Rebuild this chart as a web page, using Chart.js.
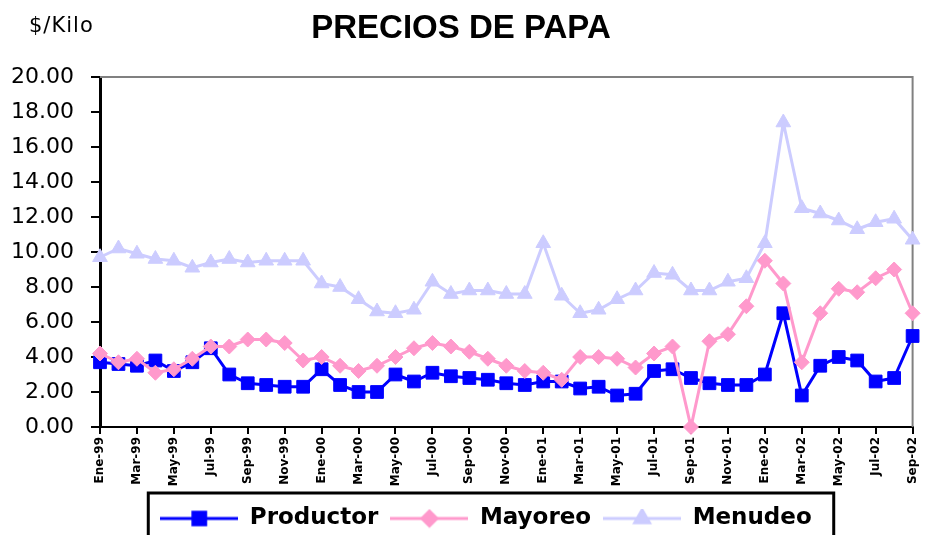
<!DOCTYPE html>
<html>
<head>
<meta charset="utf-8">
<script src="https://cdn.jsdelivr.net/npm/chart.js@4.4.1/dist/chart.umd.min.js"></script>
<style>
  html, body { margin: 0; padding: 0; background: #fff; overflow: hidden; }
  #wrap { width: 930px; height: 540px; }
</style>
</head>
<body>
<div id="wrap"><canvas id="myChart"></canvas></div>
<script>
// meses (Ene-99 .. Sep-02)
const meses = [
  'Ene-99','Feb-99','Mar-99','Abr-99','May-99','Jun-99','Jul-99','Ago-99','Sep-99','Oct-99','Nov-99','Dic-99',
  'Ene-00','Feb-00','Mar-00','Abr-00','May-00','Jun-00','Jul-00','Ago-00','Sep-00','Oct-00','Nov-00','Dic-00',
  'Ene-01','Feb-01','Mar-01','Abr-01','May-01','Jun-01','Jul-01','Ago-01','Sep-01','Oct-01','Nov-01','Dic-01',
  'Ene-02','Feb-02','Mar-02','Abr-02','May-02','Jun-02','Jul-02','Ago-02','Sep-02'
];

// $/Kilo
const productor = [3.7, 3.6, 3.5, 3.8, 3.2, 3.7, 4.5, 3.0, 2.5, 2.4, 2.3, 2.3,
                   3.3, 2.4, 2.0, 2.0, 3.0, 2.6, 3.1, 2.9, 2.8, 2.7, 2.5, 2.4,
                   2.6, 2.6, 2.2, 2.3, 1.8, 1.9, 3.2, 3.3, 2.8, 2.5, 2.4, 2.4,
                   3.0, 6.5, 1.8, 3.5, 4.0, 3.8, 2.6, 2.8, 5.2];
const mayoreo = [4.2, 3.7, 3.9, 3.1, 3.3, 3.9, 4.6, 4.6, 5.0, 5.0, 4.8, 3.8,
                 4.0, 3.5, 3.2, 3.5, 4.0, 4.5, 4.8, 4.6, 4.3, 3.9, 3.5, 3.2,
                 3.1, 2.7, 4.0, 4.0, 3.9, 3.4, 4.2, 4.6, 0.0, 4.9, 5.3, 6.9,
                 9.5, 8.2, 3.7, 6.5, 7.9, 7.7, 8.5, 9.0, 6.5];
const menudeo = [9.7, 10.2, 9.9, 9.6, 9.5, 9.1, 9.4, 9.6, 9.4, 9.5, 9.5, 9.5,
                 8.2, 8.0, 7.3, 6.6, 6.5, 6.7, 8.3, 7.6, 7.8, 7.8, 7.6, 7.6,
                 10.5, 7.5, 6.5, 6.7, 7.3, 7.8, 8.8, 8.7, 7.8, 7.8, 8.3, 8.5,
                 10.5, 17.4, 12.5, 12.2, 11.8, 11.3, 11.7, 11.9, 10.7];

const AZUL = '#0000FF';
const ROSA = '#FF99CC';
const LILA = '#CCCCFF';

// muestra de la leyenda: linea con marcador
function muestra(color, estilo, radio) {
  const c = document.createElement('canvas');
  c.width = 78; c.height = 20;
  const g = c.getContext('2d');
  g.strokeStyle = color;
  g.lineWidth = 3;
  g.beginPath(); g.moveTo(0, 10); g.lineTo(78, 10); g.stroke();
  g.fillStyle = color;
  Chart.helpers.drawPoint(g, { pointStyle: estilo, radius: radio, borderWidth: 1, rotation: 0 }, 39, 10);
  g.fill();
  return c;
}
const muestras = [muestra(AZUL, 'rect', 9), muestra(ROSA, 'rectRot', 7.5), muestra(LILA, 'triangle', 8.5)];

const extras = {
  id: 'extras',
  afterLayout(chart) {
    // la leyenda del original esta algo corrida a la derecha
    chart.legend.left += 25;
    chart.legend.right += 25;
  },
  beforeDatasetsDraw(chart) {
    const { ctx, chartArea: a } = chart;
    ctx.save();
    ctx.strokeStyle = '#808080';
    ctx.lineWidth = 2;
    ctx.beginPath();
    ctx.moveTo(a.left, a.top);
    ctx.lineTo(a.right, a.top);
    ctx.lineTo(a.right, a.bottom);
    ctx.stroke();
    ctx.restore();
  },
  afterDraw(chart) {
    const ctx = chart.ctx;
    ctx.save();
    ctx.fillStyle = '#000';
    ctx.font = '21px "DejaVu Sans"';
    ctx.letterSpacing = '1px';
    ctx.textBaseline = 'middle';
    ctx.fillText('$/Kilo', 29, 27);
    // marco de la leyenda
    const h = chart.legend.legendHitBoxes;
    if (h && h.length) {
      const x0 = h[0].left - 12;
      const x1 = h[h.length - 1].left + h[h.length - 1].width + 22;
      ctx.strokeStyle = '#000';
      ctx.lineWidth = 3;
      ctx.strokeRect(x0, h[0].top - 14, x1 - x0, 60);
    }
    ctx.restore();
  }
};

new Chart(document.getElementById('myChart'), {
  type: 'line',
  data: {
    labels: meses,
    datasets: [{
      label: 'Productor',
      data: productor,
      borderColor: AZUL,
      backgroundColor: AZUL,
      borderWidth: 3,
      pointStyle: 'rect',
      pointRadius: 9,
      pointBorderWidth: 1,
      order: 2
    }, {
      label: 'Mayoreo',
      data: mayoreo,
      borderColor: ROSA,
      backgroundColor: ROSA,
      borderWidth: 3,
      pointStyle: 'rectRot',
      pointRadius: 7.5,
      pointBorderWidth: 1,
      order: 1
    }, {
      label: 'Menudeo',
      data: menudeo,
      borderColor: LILA,
      backgroundColor: LILA,
      borderWidth: 3,
      pointStyle: 'triangle',
      pointRadius: 8.5,
      pointBorderWidth: 1,
      order: 3
    }]
  },
  options: {
    responsive: true,
    maintainAspectRatio: false,
    animation: false,
    clip: false,
    layout: { padding: { left: 0, right: 8, top: 0, bottom: 0 } },
    elements: { line: { tension: 0 } },
    scales: {
      x: {
        offset: false,
        ticks: {
          autoSkip: false,
          maxRotation: 90,
          minRotation: 90,
          padding: 3,
          color: '#000',
          font: { family: 'DejaVu Sans', size: 12, weight: 'bold' },
          callback: function(value, index) {
            return index % 2 === 0 ? this.getLabelForValue(value) : null;
          }
        },
        grid: { drawOnChartArea: false, tickLength: 7, color: '#000', lineWidth: 2 },
        border: { color: '#000', width: 2 },
        afterFit(scale) { scale.height = 68; }
      },
      y: {
        min: 0,
        max: 20,
        ticks: {
          stepSize: 2,
          padding: 17,
          color: '#000',
          font: { family: 'DejaVu Sans', size: 22 },
          callback: (value) => value.toFixed(2)
        },
        grid: { drawOnChartArea: false, tickLength: 9, color: '#000', lineWidth: 2 },
        border: { color: '#000', width: 3 },
        afterFit(scale) { scale.width = 100; }
      }
    },
    plugins: {
      title: {
        display: true,
        text: 'PRECIOS DE PAPA',
        color: '#000',
        font: { family: '"Liberation Sans", Arial', size: 33, weight: 'bold' },
        padding: { top: 9, bottom: 28.4 }
      },
      legend: {
        position: 'bottom',
        labels: {
          usePointStyle: true,
          pointStyleWidth: 78,
          padding: 12,
          color: '#000',
          font: { family: 'DejaVu Sans', size: 23, weight: 'bold' },
          generateLabels(chart) {
            const items = Chart.defaults.plugins.legend.labels.generateLabels(chart);
            items.forEach(it => { it.pointStyle = muestras[it.datasetIndex]; });
            return items.sort((a, b) => a.datasetIndex - b.datasetIndex);
          }
        }
      },
      tooltip: { enabled: false }
    }
  },
  plugins: [extras]
});
</script>
</body>
</html>
